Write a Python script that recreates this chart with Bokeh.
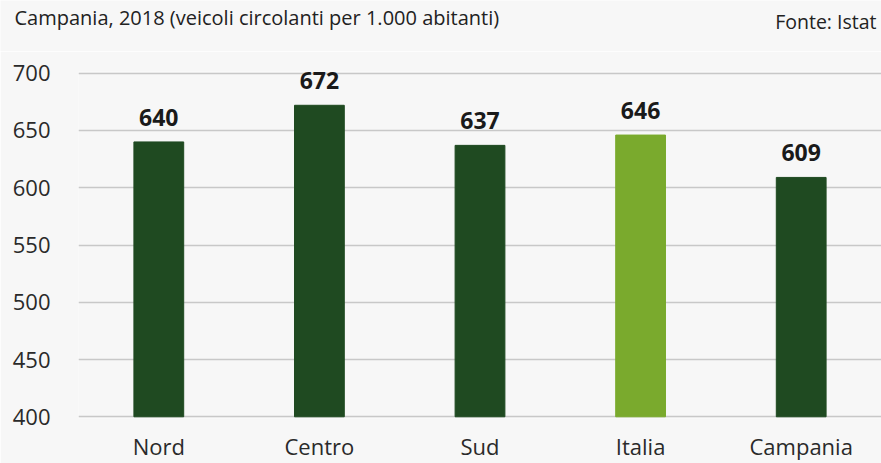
from bokeh.plotting import figure
from bokeh.models import ColumnDataSource, FactorRange, Range1d, FixedTicker, LabelSet
from bokeh.core.properties import value
from bokeh.embed import file_html
from bokeh.resources import INLINE

categories = ["Nord", "Centro", "Sud", "Italia", "Campania"]
values = [640, 672, 637, 646, 609]
bar_colors = ["#1f4a21", "#1f4a21", "#1f4a21", "#7aaa2d", "#1f4a21"]
y_ticks = [400, 450, 500, 550, 600, 650, 700]
title_text = "Campania, 2018 (veicoli circolanti per 1.000 abitanti)"
source_text = "Fonte: Istat"

FONT = "Open Sans"
BG = "#f7f7f7"
W = 881
HEADER_H = 51

# ---- header strip (title + source), its own root so its frame spans the full width ----
header = figure(width=W, height=HEADER_H, x_range=Range1d(0, W), y_range=Range1d(HEADER_H, 0),
                output_backend="svg", toolbar_location=None,
                x_axis_location=None, y_axis_location=None,
                min_border_left=0, min_border_right=0, min_border_top=0, min_border_bottom=0)
header.grid.visible = False
header.outline_line_color = None
header.background_fill_color = BG
header.border_fill_color = BG
header.text(x=[14], y=[17], text=[title_text], text_font=value(FONT),
            text_font_size="20px", text_color="#222222", text_baseline="alphabetic",
            text_align="left")
header.text(x=[876], y=[21], text=[source_text], text_font=value(FONT),
            text_font_size="19.5px", text_color="#222222", text_baseline="alphabetic",
            text_align="right")

# ---- bar chart ----
src = ColumnDataSource(dict(cat=categories, val=values, col=bar_colors,
                            lab=[str(v) for v in values]))

p = figure(width=W, height=463 - HEADER_H, x_range=FactorRange(*categories),
           y_range=Range1d(398.5, 701.5), output_backend="svg",
           toolbar_location=None, min_border_left=78, min_border_right=0,
           min_border_top=20, min_border_bottom=41)
p.background_fill_color = BG
p.border_fill_color = BG
p.outline_line_color = None

p.vbar(x="cat", top="val", bottom=400, width=0.31, color="col", source=src)

labels = LabelSet(x="cat", y="val", text="lab", source=src, y_offset=16,
                  text_align="center", text_baseline="alphabetic",
                  text_font=value(FONT), text_font_style="bold",
                  text_font_size=value("23px"), text_color="#1a1a1a")
p.add_layout(labels)

p.xgrid.grid_line_color = None
p.ygrid.grid_line_color = "#c8c8c8"
p.ygrid.grid_line_width = 1.5
p.yaxis.ticker = FixedTicker(ticks=y_ticks)

for ax in (p.xaxis[0], p.yaxis[0]):
    ax.axis_line_color = None
    ax.major_tick_line_color = None
    ax.minor_tick_line_color = None
    ax.major_tick_out = 0
    ax.major_tick_in = 0
    ax.major_label_text_font = FONT
    ax.major_label_text_font_size = "22px"
    ax.major_label_text_color = "#2a2a2a"
p.yaxis.major_label_standoff = 28
p.xaxis.major_label_standoff = 12

open("out.html", "w").write(file_html([header, p], INLINE))
